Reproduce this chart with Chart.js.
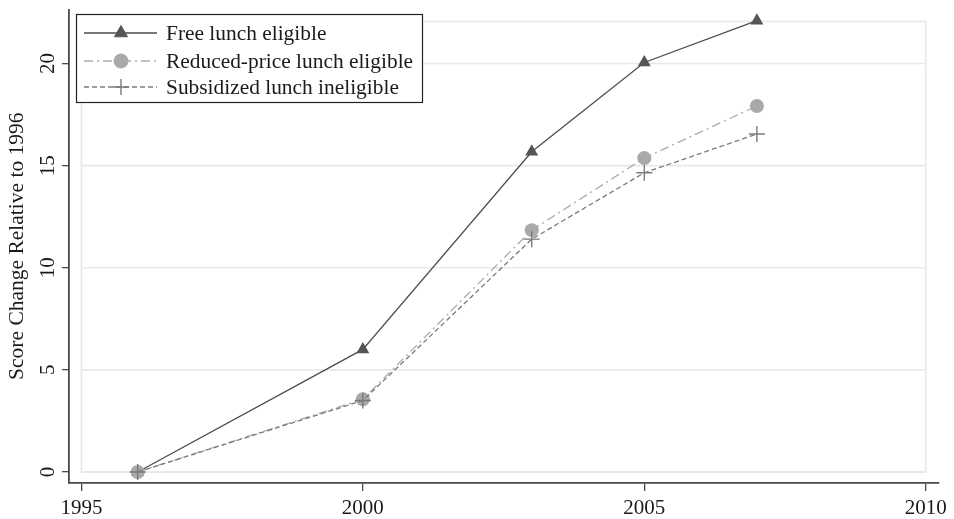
<!DOCTYPE html>
<html>
<head>
<meta charset="utf-8">
<script src="https://cdn.jsdelivr.net/npm/chart.js@4"></script>
<style>
  html, body { margin: 0; padding: 0; background: #fff; }
  #wrap { width: 954px; height: 519px; }
</style>
</head>
<body>
<div id="wrap"><canvas id="c" width="954" height="519"></canvas></div>
<script>
// Score change relative to 1996, by lunch eligibility group
const years = [1996, 2000, 2003, 2005, 2007];
const freeLunch = [0, 6.0, 15.68, 20.05, 22.1];
const reducedLunch = [0, 3.56, 11.84, 15.37, 17.92];
const ineligible = [0, 3.5, 11.4, 14.65, 16.55];

const xTicks = [1995, 2000, 2005, 2010];
const yTicks = [0, 5, 10, 15, 20];

const seriesNames = [
  'Free lunch eligible',
  'Reduced-price lunch eligible',
  'Subsidized lunch ineligible'
];

const FONT = "'Liberation Serif', 'DejaVu Serif', serif";
const TEXT = '#1a1a1a';
const AXIS = '#4a4a4a';
const GRID = '#e8e8e8';

// plot region spans the x ticks and from 0 to the top of the data
const REGION = { x0: 1995, x1: 2010, y0: 0, y1: 22.06 };

const pts = arr => arr.map((v, i) => ({ x: years[i], y: v }));

const styles = [
  { color: '#4d4d4d', fill: '#555555', dash: [], pointStyle: 'triangle', radius: 7.5, pw: 1 },
  { color: '#ababab', fill: '#a9a9a9', dash: [9, 4, 2, 4], pointStyle: 'circle', radius: 7, pw: 1 },
  { color: '#7a7a7a', fill: '#7a7a7a', dash: [5, 3], pointStyle: 'cross', radius: 8, pw: 1.4 }
];

const datasets = [freeLunch, reducedLunch, ineligible].map((vals, i) => ({
  label: seriesNames[i],
  data: pts(vals),
  borderColor: styles[i].color,
  borderWidth: 1.3,
  borderDash: styles[i].dash,
  pointStyle: styles[i].pointStyle,
  pointRadius: styles[i].radius,
  pointHoverRadius: styles[i].radius,
  pointBackgroundColor: styles[i].fill,
  pointBorderColor: styles[i].pointStyle === 'cross' ? styles[i].fill : 'rgba(0,0,0,0)',
  pointBorderWidth: styles[i].pw,
  tension: 0,
  clip: false,
  order: 2 - i
}));

// light plot-region frame and horizontal grid lines
const regionPlugin = {
  id: 'region',
  beforeDatasetsDraw(chart) {
    const { ctx, scales: { x, y } } = chart;
    const l = x.getPixelForValue(REGION.x0), r = x.getPixelForValue(REGION.x1);
    const b = y.getPixelForValue(REGION.y0), t = y.getPixelForValue(REGION.y1);
    ctx.save();
    ctx.strokeStyle = GRID;
    ctx.lineWidth = 1.6;
    yTicks.forEach(v => {
      const py = y.getPixelForValue(v);
      ctx.beginPath(); ctx.moveTo(l, py); ctx.lineTo(r, py); ctx.stroke();
    });
    ctx.strokeRect(l, t, r - l, b - t);
    ctx.restore();
  }
};

// rotated y tick labels, reading bottom to top
const yLabelPlugin = {
  id: 'yLabels',
  afterDraw(chart) {
    const { ctx, scales: { y } } = chart;
    ctx.save();
    ctx.fillStyle = TEXT;
    ctx.font = `21px ${FONT}`;
    ctx.textAlign = 'center';
    ctx.textBaseline = 'middle';
    y.ticks.forEach(t => {
      const py = y.getPixelForValue(t.value);
      ctx.save();
      ctx.translate(47, py);
      ctx.rotate(-Math.PI / 2);
      ctx.fillText(String(t.value), 0, 1);
      ctx.restore();
    });
    ctx.restore();
  }
};

// boxed legend with line and marker samples
const legendPlugin = {
  id: 'boxLegend',
  afterDraw(chart) {
    const { ctx } = chart;
    const box = { x: 76.5, y: 14.5, w: 346, h: 88 };
    const rows = [33, 61, 87];
    ctx.save();
    ctx.fillStyle = '#ffffff';
    ctx.fillRect(box.x, box.y, box.w, box.h);
    ctx.strokeStyle = '#222';
    ctx.lineWidth = 1.2;
    ctx.strokeRect(box.x, box.y, box.w, box.h);
    chart.data.datasets.forEach((ds, i) => {
      const st = styles[i];
      const yy = rows[i];
      ctx.save();
      ctx.strokeStyle = st.color;
      ctx.lineWidth = 1.3;
      ctx.setLineDash(st.dash);
      ctx.beginPath(); ctx.moveTo(84, yy); ctx.lineTo(157, yy); ctx.stroke();
      ctx.setLineDash([]);
      ctx.fillStyle = st.fill;
      ctx.strokeStyle = st.fill;
      ctx.lineWidth = st.pw;
      Chart.helpers.drawPoint(ctx, { pointStyle: st.pointStyle, radius: st.radius, rotation: 0, borderWidth: st.pw }, 121, yy);
      ctx.restore();
      ctx.fillStyle = TEXT;
      ctx.font = `21.4px ${FONT}`;
      ctx.textAlign = 'left';
      ctx.textBaseline = 'middle';
      ctx.fillText(ds.label, 166, yy + 1);
    });
    ctx.restore();
  }
};

new Chart(document.getElementById('c'), {
  type: 'line',
  data: { datasets },
  plugins: [regionPlugin, yLabelPlugin, legendPlugin],
  options: {
    responsive: false,
    animation: false,
    events: [],
    layout: { padding: { left: 0, right: 15, top: 8, bottom: 0 } },
    plugins: { legend: { display: false }, tooltip: { enabled: false } },
    scales: {
      x: {
        type: 'linear',
        min: 1994.78,
        max: 2010.235,
        afterBuildTicks: s => { s.ticks = xTicks.map(v => ({ value: v })); },
        afterFit: s => { s.height = 36; },
        grid: { display: true, drawOnChartArea: false, drawTicks: true, tickLength: 8, color: AXIS, lineWidth: 1.3 },
        border: { display: true, color: AXIS, width: 1.8 },
        ticks: {
          color: TEXT,
          font: { family: FONT, size: 21 },
          padding: 5,
          maxRotation: 0,
          autoSkip: false,
          callback: v => String(v)
        }
      },
      y: {
        type: 'linear',
        min: -0.54,
        max: 22.65,
        afterBuildTicks: s => { s.ticks = yTicks.map(v => ({ value: v })); },
        afterFit: s => { s.width = 69; },
        grid: { display: true, drawOnChartArea: false, drawTicks: true, tickLength: 7, color: AXIS, lineWidth: 1.3 },
        border: { display: true, color: AXIS, width: 1.8 },
        ticks: { display: false },
        title: {
          display: true,
          text: 'Score Change Relative to 1996',
          color: TEXT,
          font: { family: FONT, size: 21.5 },
          padding: { top: 4, bottom: 0 }
        }
      }
    }
  }
});
</script>
</body>
</html>
